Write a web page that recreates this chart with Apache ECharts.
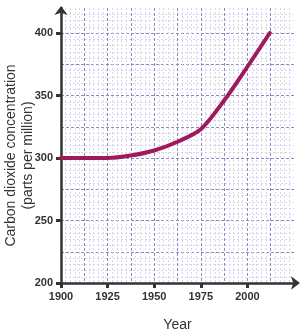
<!DOCTYPE html>
<html>
<head>
<meta charset="utf-8">
<script src="https://cdn.jsdelivr.net/npm/echarts@6/dist/echarts.min.js"></script>
<style>
html,body{margin:0;padding:0;background:#fff;}
#chart{width:304px;height:333px;}
</style>
</head>
<body>
<div id="chart"></div>
<script>
const years = [1900, 1912.5, 1925, 1937.5, 1950, 1962.5, 1975, 1987.5, 2000, 2012];
const co2 = [300, 300, 300, 302, 306, 313, 323, 346, 373, 400];
const xTickValues = [1900, 1925, 1950, 1975, 2000];
const yTickValues = [200, 250, 300, 350, 400];
const xName = 'Year';
const yName = 'Carbon dioxide concentration\n(parts per million)';

const seriesData = years.map((y, i) => [y, co2[i]]);

const axisColor = '#333333';
const labelStyle = {color: '#333333', fontSize: 11, fontWeight: 'bold', fontFamily: 'Liberation Sans, Arial, sans-serif', formatter: v => String(v)};
const majorGrid = {show: true, showMinLine: false, showMaxLine: false, lineStyle: {color: '#8a8ac6', width: 1, type: [3, 2]}};
const minorGrid = {show: true, lineStyle: {color: '#d6d6ec', width: 1, type: [2, 2]}};

const chart = echarts.init(document.getElementById('chart'), null, {renderer: 'canvas'});
chart.setOption({
  animation: false,
  backgroundColor: '#ffffff',
  grid: {left: 61, right: 10, top: 8, bottom: 50, containLabel: false, outerBoundsMode: 'none'},
  xAxis: [
    {
      type: 'value', min: 1900, max: 2025, interval: 12.5, position: 'bottom',
      axisLine: {show: false}, axisTick: {show: false}, axisLabel: {show: false},
      splitLine: majorGrid,
      minorTick: {show: false, splitNumber: 5},
      minorSplitLine: minorGrid
    },
    {
      type: 'value', min: 1900, max: 2025, interval: 25, position: 'bottom',
      axisLine: {show: true, symbol: ['none', 'arrow'], symbolSize: [10, 9], symbolOffset: [0, 6],
        lineStyle: {color: axisColor, width: 2.5}},
      axisTick: {show: true, customValues: xTickValues, length: 5, lineStyle: {color: axisColor, width: 3}},
      axisLabel: Object.assign({customValues: xTickValues, margin: 8}, labelStyle),
      splitLine: {show: false},
      name: xName, nameLocation: 'middle', nameGap: 35, nameMoveOverlap: false,
      nameTextStyle: {color: '#333333', fontSize: 14, fontFamily: 'Liberation Sans, Arial, sans-serif'}
    }
  ],
  yAxis: [
    {
      type: 'value', min: 200, max: 420, interval: 25, position: 'left',
      axisLine: {show: false}, axisTick: {show: false}, axisLabel: {show: false},
      splitLine: majorGrid,
      minorTick: {show: false, splitNumber: 5},
      minorSplitLine: minorGrid
    },
    {
      type: 'value', min: 200, max: 420, interval: 50, position: 'left',
      axisLine: {show: true, symbol: ['none', 'arrow'], symbolSize: [10, 9], symbolOffset: [0, 2],
        lineStyle: {color: axisColor, width: 2.5}},
      axisTick: {show: true, customValues: yTickValues, length: 5, lineStyle: {color: axisColor, width: 3}},
      axisLabel: Object.assign({customValues: yTickValues, margin: 8}, labelStyle),
      splitLine: {show: false},
      name: yName, nameLocation: 'middle', nameGap: 24, nameRotate: 90, nameMoveOverlap: false,
      nameTextStyle: {color: '#333333', fontSize: 14, lineHeight: 17, padding: [0, 20, 0, 0], fontFamily: 'Liberation Sans, Arial, sans-serif'}
    }
  ],
  series: [{
    type: 'line',
    xAxisIndex: 1, yAxisIndex: 1,
    data: seriesData,
    smooth: 0.3,
    showSymbol: false,
    lineStyle: {color: '#9e1a5c', width: 4, cap: 'round'},
    z: 5
  }]
});
</script>
</body>
</html>
